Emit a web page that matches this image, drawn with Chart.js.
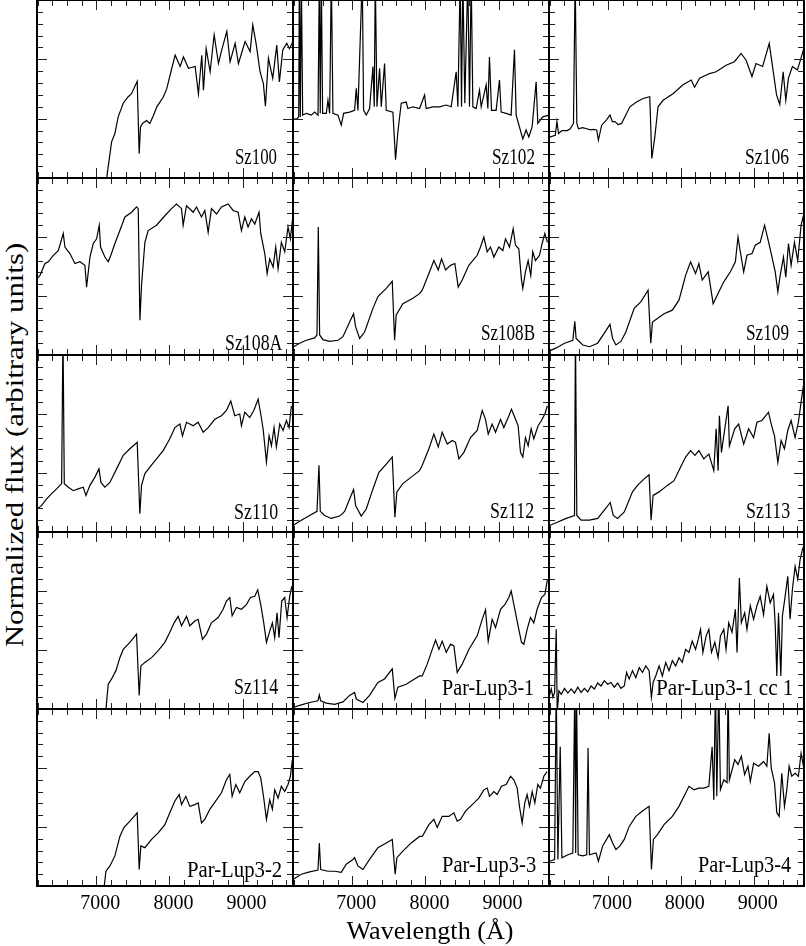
<!DOCTYPE html>
<html lang="en">
<head>
<meta charset="UTF-8">
<title>Spectra grid</title>
<script src="https://cdn.jsdelivr.net/npm/chart.js"></script>
<style>
  body { margin: 0; background: #fff; }
  #fig { position: relative; width: 806px; height: 946px; overflow: hidden; font-family: 'Liberation Serif', serif; color: #000; }
  #fig canvas { position: absolute; }
  .lbl { position: absolute; font-size: 24px; line-height: 24px; white-space: pre; transform-origin: right center; }
  .xtitle { position: absolute; font-size: 26px; line-height: 26px; white-space: pre; left: 430px; top: 918px; }
  .ytitle { position: absolute; font-size: 26px; line-height: 26px; white-space: pre; left: 15px; top: 445px; }
</style>
</head>
<body>
<div id="fig"></div>
<script>
// wavelength (A), normalized flux
const sz100 = [[7140,-0.05],[7150,0.07],[7210,0.61],[7255,0.75],[7300,1.03],[7369,1.26],[7437,1.37],[7482,1.42],[7560,1.63],[7587,0.41],
  [7605,0.86],[7632,0.92],[7688,0.97],[7733,0.92],[7780,1.05],[7828,1.20],[7919,1.37],[7965,1.51],[8033,1.85],[8079,2.07],[8147,1.88],
  [8192,2.04],[8261,1.85],[8352,1.88],[8397,1.42],[8443,2.07],[8466,1.48],[8503,2.18],[8557,1.79],[8612,2.41],[8671,1.93],[8716,2.16],
  [8785,2.47],[8830,1.96],[8899,2.27],[8944,1.93],[9035,2.30],[9104,2.13],[9140,2.58],[9185,2.27],[9240,1.79],[9285,1.59],[9313,1.21],
  [9354,2.02],[9413,1.68],[9468,2.24],[9504,1.62],[9550,2.16],[9605,2.27],[9641,2.18],[9690,2.30]];
const sz102 = [[6199,0.99],[6245,1.00],[6268,1.03],[6277,3.4],[6290,1.03],[6304,3.4],[6322,1.06],[6372,1.09],[6440,1.06],[6486,1.11],
  [6532,1.06],[6550,3.4],[6563,1.09],[6577,3.4],[6595,1.09],[6645,1.09],[6668,1.31],[6691,1.09],[6714,3.4],[6736,1.09],[6805,1.06],
  [6850,0.89],[6882,1.09],[6964,1.11],[7032,1.14],[7055,1.51],[7078,1.14],[7137,3.4],[7155,1.14],[7192,1.06],[7237,1.17],[7283,1.88],
  [7301,1.20],[7315,3.4],[7338,1.20],[7374,1.85],[7397,1.20],[7442,1.93],[7465,1.14],[7556,1.11],[7592,0.31],[7624,0.78],[7670,1.26],
  [7738,1.28],[7761,1.17],[7829,1.20],[7920,1.17],[7989,1.40],[8011,1.17],[8102,1.20],[8193,1.20],[8285,1.23],[8353,1.20],[8421,1.79],
  [8444,1.20],[8476,3.4],[8494,1.20],[8512,3.4],[8539,1.26],[8580,3.4],[8603,1.20],[8626,3.4],[8649,1.20],[8694,1.17],[8740,1.48],
  [8763,1.20],[8831,1.57],[8854,1.17],[8876,2.04],[8904,1.14],[8967,1.14],[9013,1.65],[9036,1.11],[9104,1.09],[9172,1.06],[9218,2.16],
  [9241,1.06],[9286,0.86],[9332,0.66],[9377,0.81],[9414,0.69],[9459,0.86],[9514,1.62],[9537,0.92],[9605,1.03],[9690,1.06]];
const sz106 = [[6198,0.69],[6276,0.72],[6299,0.95],[6321,0.75],[6367,0.80],[6440,0.80],[6481,0.83],[6526,0.92],[6549,3.4],[6558,3.4],
  [6572,0.92],[6595,0.83],[6650,0.85],[6708,0.83],[6760,0.81],[6799,0.82],[6845,0.81],[6868,0.64],[6913,0.89],[6980,0.98],[7027,1.06],
  [7060,0.95],[7095,0.95],[7140,0.90],[7186,0.92],[7300,1.20],[7391,1.28],[7482,1.34],[7573,1.37],[7601,0.33],[7642,0.69],[7687,1.20],
  [7756,1.31],[7892,1.42],[8029,1.57],[8143,1.65],[8188,1.53],[8257,1.68],[8393,1.76],[8484,1.79],[8621,1.90],[8735,1.96],[8826,2.10],
  [8894,1.99],[8976,1.71],[9031,1.93],[9122,1.88],[9213,2.27],[9258,1.88],[9313,1.40],[9358,1.24],[9404,1.79],[9440,1.31],[9476,1.68],
  [9531,1.88],[9600,1.82],[9668,2.10],[9691,2.20]];
const sz108a = [[6194,1.30],[6231,1.35],[6299,1.55],[6344,1.58],[6413,1.69],[6481,1.77],[6549,2.06],[6572,1.83],[6640,1.72],[6709,1.55],
  [6777,1.58],[6845,1.52],[6868,1.15],[6914,1.66],[6959,1.89],[7005,1.97],[7041,2.20],[7059,1.83],[7118,1.66],[7164,1.58],[7200,1.69],
  [7255,1.89],[7323,2.11],[7392,2.34],[7483,2.42],[7551,2.51],[7574,2.48],[7597,0.59],[7619,1.18],[7665,1.91],[7710,2.11],[7824,2.20],
  [7938,2.36],[8029,2.48],[8097,2.56],[8166,2.48],[8188,2.20],[8234,2.53],[8325,2.42],[8371,2.51],[8439,2.34],[8484,2.45],[8530,2.08],
  [8575,2.48],[8644,2.39],[8712,2.51],[8803,2.56],[8871,2.45],[8940,2.42],[8985,2.11],[9031,2.34],[9076,2.17],[9122,2.31],[9167,2.22],
  [9226,2.42],[9249,2.06],[9304,1.72],[9336,1.38],[9372,1.63],[9418,1.49],[9454,1.83],[9486,1.46],[9531,1.91],[9577,1.75],[9622,2.17],
  [9654,1.97],[9682,2.28]];
const sz108b = [[6199,0.14],[6281,0.20],[6372,0.25],[6486,0.29],[6518,0.34],[6536,2.17],[6554,0.34],[6600,0.26],[6691,0.23],[6805,0.25],
  [6873,0.31],[6964,0.56],[7018,0.70],[7046,0.48],[7101,0.28],[7169,0.39],[7283,0.79],[7351,0.99],[7465,1.13],[7547,1.25],[7579,0.25],
  [7601,0.68],[7692,0.87],[7829,0.96],[7920,1.04],[7957,1.10],[8048,1.38],[8116,1.60],[8176,1.44],[8221,1.63],[8276,1.44],[8344,1.52],
  [8403,1.55],[8449,1.15],[8503,1.27],[8594,1.52],[8708,1.69],[8754,1.83],[8799,2.00],[8845,1.75],[8890,1.83],[8936,1.66],[9004,1.83],
  [9059,1.77],[9095,1.97],[9150,1.83],[9200,2.14],[9232,1.86],[9277,1.80],[9314,1.27],[9332,1.13],[9368,1.41],[9405,1.60],[9441,1.35],
  [9468,1.75],[9505,1.60],[9560,1.69],[9596,1.89],[9633,2.06],[9669,1.91]];
const sz109 = [[6198,0.07],[6289,0.12],[6403,0.20],[6517,0.25],[6544,0.57],[6562,0.28],[6654,0.17],[6745,0.14],[6858,0.20],[6949,0.37],
  [7027,0.52],[7063,0.28],[7109,0.17],[7177,0.23],[7245,0.39],[7359,0.79],[7450,0.90],[7550,1.10],[7587,0.20],[7610,0.56],[7678,0.62],
  [7769,0.70],[7883,0.76],[7974,0.93],[8065,1.35],[8133,1.58],[8201,1.38],[8247,1.55],[8293,1.27],[8375,1.41],[8443,0.87],[8497,1.01],
  [8589,1.24],[8680,1.41],[8748,1.58],[8784,2.00],[8816,1.75],[8862,1.41],[8907,1.69],[8976,1.72],[9021,1.86],[9089,1.91],[9149,2.20],
  [9194,1.97],[9240,1.72],[9295,1.41],[9331,1.07],[9363,1.35],[9408,1.66],[9440,1.32],[9477,1.89],[9513,1.52],[9559,1.91],[9604,1.60],
  [9650,2.20],[9682,2.36]];
const sz110 = [[6194,0.39],[6253,0.45],[6322,0.56],[6390,0.65],[6458,0.73],[6527,0.82],[6545,3.4],[6563,0.82],[6618,0.76],[6686,0.70],
  [6754,0.73],[6822,0.76],[6859,0.62],[6914,0.79],[6982,0.93],[7037,1.07],[7064,0.84],[7118,0.76],[7187,0.84],[7278,1.07],[7369,1.30],
  [7460,1.41],[7560,1.52],[7596,0.31],[7619,0.79],[7665,0.99],[7733,1.10],[7824,1.24],[7915,1.38],[8006,1.58],[8075,1.77],[8143,1.83],
  [8179,1.63],[8234,1.86],[8325,1.80],[8393,1.86],[8462,1.69],[8530,1.77],[8621,1.91],[8712,1.97],[8780,2.06],[8839,2.22],[8894,1.97],
  [8962,2.00],[8985,1.80],[9031,2.03],[9099,1.94],[9154,2.06],[9213,2.25],[9249,2.00],[9281,1.75],[9327,1.19],[9363,1.63],[9395,1.46],
  [9431,1.77],[9463,1.44],[9509,1.83],[9554,1.72],[9600,1.89],[9636,1.77],[9668,2.14]];
const sz112 = [[6199,0.12],[6304,0.20],[6417,0.28],[6518,0.35],[6545,1.13],[6563,0.35],[6622,0.28],[6713,0.23],[6827,0.27],[6896,0.35],
  [6964,0.56],[7018,0.72],[7046,0.45],[7123,0.27],[7192,0.39],[7283,0.73],[7365,1.01],[7465,1.15],[7547,1.27],[7583,0.25],[7610,0.68],
  [7692,0.82],[7806,0.93],[7920,1.04],[7957,1.13],[8048,1.41],[8116,1.66],[8176,1.44],[8230,1.69],[8299,1.49],[8367,1.55],[8412,1.52],
  [8458,1.24],[8526,1.35],[8617,1.60],[8708,1.72],[8777,2.06],[8822,1.91],[8859,1.66],[8913,1.83],[8959,1.69],[9027,1.91],[9072,1.77],
  [9132,1.94],[9177,2.08],[9223,1.94],[9268,1.80],[9300,1.35],[9332,1.27],[9368,1.60],[9405,1.46],[9446,1.75],[9482,1.58],[9541,1.80],
  [9587,1.89],[9633,2.00],[9669,2.14]];
const sz113 = [[6198,0.11],[6312,0.17],[6426,0.23],[6540,0.28],[6553,3.4],[6572,0.28],[6631,0.20],[6745,0.20],[6858,0.23],[6949,0.37],
  [7031,0.50],[7072,0.28],[7132,0.23],[7223,0.34],[7336,0.68],[7405,0.79],[7496,0.90],[7564,0.97],[7591,0.20],[7619,0.62],[7701,0.68],
  [7815,0.79],[7906,0.87],[7997,1.10],[8065,1.27],[8133,1.38],[8193,1.30],[8247,1.38],[8315,1.24],[8384,1.32],[8452,1.04],[8484,1.75],
  [8511,1.04],[8529,1.97],[8557,1.35],[8648,2.14],[8666,1.46],[8739,1.75],[8793,1.83],[8862,1.49],[8930,1.75],[8998,1.60],[9044,1.86],
  [9112,1.89],[9203,2.03],[9240,1.83],[9285,1.63],[9331,1.18],[9376,1.55],[9422,1.41],[9467,1.72],[9513,1.89],[9568,1.60],[9613,1.86],
  [9650,2.20],[9682,2.48]];
const sz114 = [[7132,-0.05],[7140,0.10],[7164,0.42],[7210,0.51],[7269,0.65],[7323,0.87],[7369,1.01],[7460,1.13],[7551,1.27],[7587,0.23],
  [7610,0.73],[7665,0.79],[7756,0.87],[7847,0.99],[7938,1.13],[8006,1.30],[8065,1.46],[8120,1.57],[8166,1.41],[8234,1.57],[8279,1.41],
  [8348,1.49],[8393,1.52],[8452,1.18],[8507,1.27],[8575,1.46],[8666,1.55],[8735,1.69],[8780,1.83],[8826,1.89],[8858,1.58],[8917,1.72],
  [8985,1.69],[9053,1.77],[9108,1.89],[9167,1.91],[9208,2.02],[9249,1.77],[9290,1.46],[9327,1.13],[9372,1.32],[9408,1.46],[9440,1.21],
  [9472,1.63],[9499,1.21],[9536,1.83],[9577,1.89],[9609,1.55],[9645,1.91],[9673,2.08]];
const parLup31 = [[6199,0.03],[6304,0.07],[6417,0.11],[6531,0.14],[6550,0.24],[6568,0.14],[6645,0.10],[6759,0.08],[6873,0.12],[6964,0.23],
  [7032,0.28],[7055,0.17],[7146,0.11],[7237,0.23],[7351,0.45],[7442,0.51],[7547,0.68],[7583,0.18],[7624,0.37],[7738,0.42],[7852,0.51],
  [7920,0.56],[7957,0.56],[8025,0.76],[8094,1.01],[8139,1.17],[8185,1.01],[8230,1.15],[8285,0.96],[8344,1.10],[8390,1.07],[8435,0.62],
  [8503,0.76],[8594,1.01],[8708,1.24],[8777,1.52],[8822,1.68],[8859,1.15],[8913,1.52],[8959,1.38],[9027,1.69],[9086,1.77],[9141,1.89],
  [9173,2.00],[9223,1.69],[9277,1.35],[9314,1.13],[9346,1.10],[9391,1.35],[9437,1.55],[9482,1.46],[9528,1.69],[9587,1.89],[9633,1.94],
  [9669,2.20]];
const parLup31cc1 = [[6198,0.23],[6221,0.34],[6244,0.20],[6267,0.28],[6289,1.35],[6303,-0.05],[6326,0.31],[6358,0.25],[6403,0.35],
  [6449,0.27],[6494,0.34],[6540,0.27],[6585,0.37],[6631,0.28],[6676,0.35],[6722,0.29],[6767,0.39],[6813,0.34],[6858,0.44],[6904,0.39],
  [6949,0.48],[6995,0.42],[7040,0.45],[7086,0.37],[7132,0.44],[7177,0.35],[7223,0.39],[7255,0.62],[7291,0.51],[7336,0.65],[7382,0.53],
  [7428,0.70],[7473,0.62],[7519,0.73],[7564,0.65],[7596,0.20],[7619,0.45],[7655,0.56],[7701,0.73],[7746,0.56],[7792,0.79],[7837,0.65],
  [7883,0.82],[7928,0.73],[7974,0.87],[8019,0.79],[8065,1.01],[8110,0.96],[8156,1.15],[8202,1.01],[8238,1.18],[8270,1.35],[8302,0.96],
  [8347,1.24],[8384,1.35],[8420,0.96],[8466,1.13],[8511,0.87],[8543,1.24],[8589,1.35],[8620,1.01],[8657,1.46],[8702,1.30],[8748,1.69],
  [8771,0.96],[8803,2.22],[8830,1.46],[8876,1.63],[8907,1.35],[8953,1.75],[8998,1.52],[9044,1.75],[9089,1.91],[9135,1.60],[9180,2.08],
  [9226,1.80],[9271,1.94],[9294,1.46],[9317,0.56],[9340,1.63],[9372,0.56],[9394,1.58],[9431,1.91],[9467,2.25],[9499,1.52],[9531,2.03],
  [9568,2.42],[9604,2.20],[9636,2.53],[9668,2.70],[9686,2.76]];
const parLup32 = [[7105,-0.05],[7132,0.25],[7187,0.34],[7255,0.51],[7323,0.84],[7378,0.99],[7460,1.10],[7560,1.24],[7587,0.28],[7610,0.68],
  [7665,0.65],[7756,0.79],[7847,0.90],[7938,1.04],[8006,1.24],[8075,1.44],[8134,1.55],[8166,1.38],[8225,1.52],[8279,1.35],[8348,1.38],
  [8393,1.41],[8439,1.07],[8484,1.13],[8553,1.30],[8644,1.46],[8712,1.58],[8780,1.80],[8826,1.89],[8858,1.52],[8908,1.72],[8962,1.58],
  [9031,1.77],[9099,1.86],[9167,1.94],[9213,1.94],[9249,1.83],[9290,1.49],[9327,1.13],[9372,1.46],[9408,1.30],[9440,1.63],[9486,1.49],
  [9531,1.69],[9577,1.60],[9622,1.72],[9654,1.86],[9682,2.14]];
const parLup33 = [[6199,0.12],[6304,0.20],[6417,0.24],[6531,0.27],[6550,0.73],[6568,0.28],[6668,0.25],[6759,0.25],[6850,0.23],[6918,0.37],
  [7010,0.45],[7032,0.48],[7078,0.34],[7146,0.28],[7237,0.45],[7351,0.65],[7465,0.73],[7547,0.79],[7587,0.20],[7610,0.48],[7692,0.59],
  [7806,0.73],[7920,0.84],[7957,0.84],[8048,1.04],[8116,1.13],[8162,0.99],[8230,1.18],[8321,1.18],[8390,1.24],[8435,1.10],[8481,1.13],
  [8549,1.27],[8640,1.38],[8731,1.49],[8799,1.63],[8845,1.66],[8877,1.52],[8936,1.60],[8981,1.55],[9041,1.69],[9104,1.72],[9164,1.86],
  [9209,1.80],[9255,1.66],[9286,1.35],[9323,1.07],[9359,1.41],[9391,1.55],[9423,1.35],[9460,1.60],[9496,1.41],[9537,1.72],[9573,1.66],
  [9619,1.86],[9664,1.94]];
const parLup34 = [[6198,0.42],[6267,0.45],[6289,3.4],[6312,0.45],[6344,2.36],[6367,0.48],[6449,0.53],[6517,0.56],[6544,3.4],[6556,0.56],
  [6567,3.4],[6590,0.53],[6654,0.51],[6708,0.53],[6726,2.34],[6745,0.53],[6836,0.56],[6868,0.42],[6927,0.68],[7018,0.87],[7063,0.73],
  [7109,0.62],[7164,0.68],[7223,0.79],[7291,1.01],[7382,1.18],[7473,1.27],[7564,1.35],[7596,0.28],[7623,0.79],[7678,0.87],[7769,1.04],
  [7883,1.18],[7974,1.35],[8056,1.55],[8111,1.69],[8179,1.63],[8247,1.66],[8316,1.66],[8384,1.69],[8429,2.36],[8452,1.46],[8475,3.4],
  [8493,1.52],[8520,3.4],[8543,1.63],[8589,1.80],[8634,1.75],[8648,3.4],[8666,1.80],[8739,2.14],[8784,2.06],[8830,2.20],[8875,1.89],
  [8921,2.03],[8953,1.77],[8998,2.08],[9067,2.03],[9135,2.11],[9180,2.03],[9212,2.59],[9240,2.00],[9285,1.75],[9317,1.24],[9349,1.18],
  [9385,1.91],[9422,1.35],[9454,1.63],[9486,2.03],[9522,1.86],[9568,1.91],[9613,1.86],[9650,2.25],[9682,2.03]];

const names = ['Sz100', 'Sz102', 'Sz106', 'Sz108A', 'Sz108B', 'Sz109', 'Sz110', 'Sz112', 'Sz113',
  'Sz114', 'Par-Lup3-1', 'Par-Lup3-1 cc 1', 'Par-Lup3-2', 'Par-Lup3-3', 'Par-Lup3-4'];
const spectra = [sz100, sz102, sz106, sz108a, sz108b, sz109, sz110, sz112, sz113,
  sz114, parLup31, parLup31cc1, parLup32, parLup33, parLup34];

const xLabels = [7000, 8000, 9000];
const xMinor = 200;
const yMajor = [1, 2];
const yMinor = 0.2;
const xRange = [6190, 9690];
const yRange = [0, 3];

// panel geometry (pixels)
const colLeft = [37, 293, 549];
const colRight = [293, 549, 804];
const rowTop = [0, 178, 355, 532, 709];
const rowBottom = [178, 355, 532, 709, 886];
// label: [gap from right edge, baseline gap from bottom, fitted width]
const labelPos = [[16,14,42],[14,14,43],[15,14,44],[11,5,57],[14,15,54],[15,15,43],[15,13,44],[15,14,44],[14,14,44],
  [15,15,44],[15,14,92],[11,14,137],[11,9,95],[13,14,94],[13,14,93]];

Chart.defaults.font.family = "'Liberation Serif', serif";
Chart.defaults.color = '#000';

const frameTicks = {
  id: 'frameTicks',
  afterDatasetsDraw(chart) {
    const { ctx, chartArea: a, scales: { x, y } } = chart;
    ctx.save();
    ctx.strokeStyle = '#222';
    ctx.lineWidth = 1;
    ctx.beginPath();
    for (let v = Math.ceil(xRange[0] / xMinor) * xMinor; v < xRange[1]; v += xMinor) {
      const px = Math.round(x.getPixelForValue(v)) + 0.5;
      const len = xLabels.includes(v) ? 10 : 6;
      ctx.moveTo(px, a.top); ctx.lineTo(px, a.top + len);
      ctx.moveTo(px, a.bottom); ctx.lineTo(px, a.bottom - len);
    }
    for (let i = 1; i * yMinor < yRange[1] - 1e-6; i++) {
      const v = +(i * yMinor).toFixed(2);
      const py = Math.round(y.getPixelForValue(v)) + 0.5;
      const len = yMajor.includes(v) ? 10 : 6;
      ctx.moveTo(a.left, py); ctx.lineTo(a.left + len, py);
      ctx.moveTo(a.right, py); ctx.lineTo(a.right - len, py);
    }
    ctx.stroke();
    ctx.strokeStyle = '#000';
    ctx.lineWidth = 2;
    ctx.strokeRect(a.left, a.top, a.right - a.left, a.bottom - a.top);
    ctx.restore();
  }
};

const fig = document.getElementById('fig');

spectra.forEach((spec, i) => {
  const row = Math.floor(i / 3), col = i % 3;
  const bottomRow = row === 4;
  const w = colRight[col] - colLeft[col], h = rowBottom[row] - rowTop[row];
  const cv = document.createElement('canvas');
  cv.width = w + 2;
  cv.height = bottomRow ? h + 61 : h + 2;
  cv.style.left = (colLeft[col] - 1) + 'px';
  cv.style.top = (rowTop[row] - 1) + 'px';
  cv.style.width = cv.width + 'px';
  cv.style.height = cv.height + 'px';
  fig.appendChild(cv);

  const xScale = {
    type: 'linear', min: xRange[0], max: xRange[1],
    display: bottomRow,
    grid: { display: false, drawTicks: false },
    border: { display: false },
    ticks: {
      autoSkip: false, maxRotation: 0, padding: 6, labelOffset: 4,
      font: { size: 20 }, color: '#000',
      callback: v => String(v)
    }
  };
  if (bottomRow) {
    xScale.afterBuildTicks = s => { s.ticks = xLabels.map(v => ({ value: v })); };
    xScale.afterFit = s => { s.height = 60; };
  }

  new Chart(cv, {
    type: 'line',
    data: {
      datasets: [{
        data: spec.map(p => ({ x: p[0], y: p[1] })),
        borderColor: '#000',
        borderWidth: 1.2,
        pointRadius: 0,
        tension: 0,
        clip: 0
      }]
    },
    options: {
      responsive: false,
      animation: false,
      devicePixelRatio: 1,
      layout: { padding: { top: 1, left: 1, right: 1, bottom: bottomRow ? 0 : 1 } },
      plugins: { legend: { display: false }, tooltip: { enabled: false } },
      scales: {
        x: xScale,
        y: { min: yRange[0], max: yRange[1], display: false }
      }
    },
    plugins: [frameTicks]
  });

  const [gapR, gapB, fitW] = labelPos[i];
  const lbl = document.createElement('div');
  lbl.className = 'lbl';
  lbl.textContent = names[i];
  lbl.style.right = (806 - colRight[col] + gapR) + 'px';
  lbl.style.top = (rowBottom[row] - gapB - 20) + 'px';
  fig.appendChild(lbl);
  lbl.style.transform = 'scaleX(' + (fitW / lbl.offsetWidth).toFixed(3) + ')';
});

const xt = document.createElement('div');
xt.className = 'xtitle';
xt.textContent = 'Wavelength (Å)';
fig.appendChild(xt);
xt.style.transform = 'translateX(-50%) scaleX(' + (167 / xt.offsetWidth).toFixed(3) + ')';

const yt = document.createElement('div');
yt.className = 'ytitle';
yt.textContent = 'Normalized flux (arbitrary units)';
fig.appendChild(yt);
yt.style.transform = 'translate(-50%, -50%) rotate(-90deg) scaleX(' + (405 / yt.offsetWidth).toFixed(3) + ')';
</script>
</body>
</html>
